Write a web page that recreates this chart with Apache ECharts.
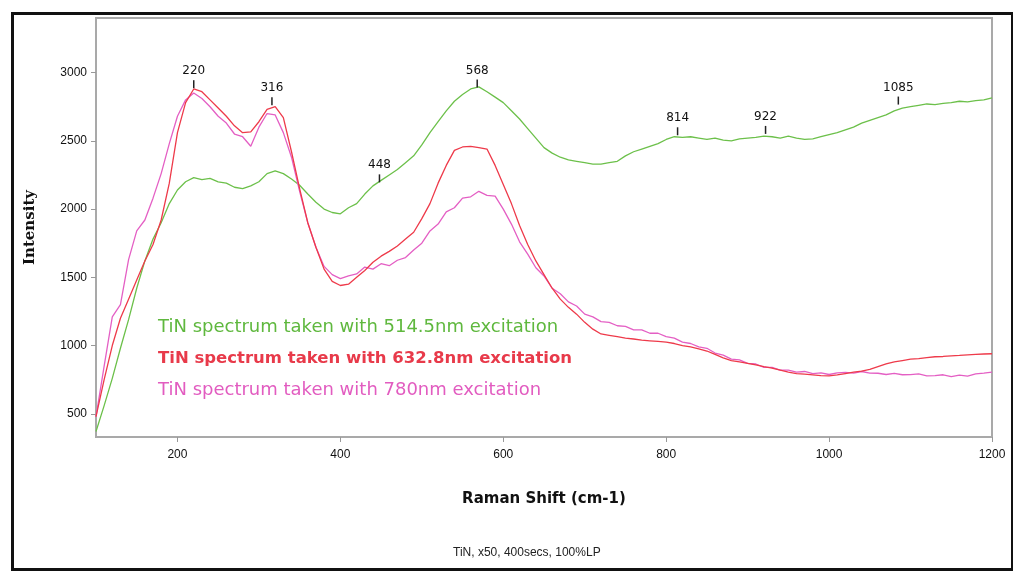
<!DOCTYPE html>
<html>
<head>
<meta charset="utf-8">
<script src="https://cdn.jsdelivr.net/npm/echarts@6/dist/echarts.min.js"></script>
<style>
  html, body { margin: 0; padding: 0; background: #fff; }
  #raman { width: 1013px; height: 571px; }
</style>
</head>
<body>
<div id="raman"></div>
<script>
// Raman shift (cm-1), one shared step for the three spectra
var shift = [];
for (var s = 100; s <= 1200; s += 10) shift.push(s);

// 514.5nm excitation
var green = [
  370, 560, 760, 980, 1190, 1420, 1620, 1780, 1900, 2040,
  2140, 2200, 2230, 2215, 2225, 2200, 2190, 2160, 2150, 2170,
  2200, 2260, 2280, 2260, 2220, 2175, 2110, 2050, 2000, 1975,
  1965, 2010, 2040, 2110, 2170, 2210, 2250, 2290, 2340, 2390,
  2470, 2560, 2640, 2720, 2790, 2840, 2880, 2895, 2860, 2820,
  2780, 2720, 2660, 2590, 2520, 2450, 2410, 2380, 2360, 2350,
  2340, 2330, 2330, 2340, 2350, 2390, 2420, 2440, 2460, 2480,
  2510, 2530, 2525, 2530, 2520, 2510, 2520, 2505, 2500, 2515,
  2520, 2525, 2535, 2530, 2520, 2535, 2520, 2510, 2515, 2530,
  2545, 2560, 2580, 2600, 2630, 2650, 2670, 2690, 2720, 2740,
  2750, 2760, 2770, 2765, 2775, 2780, 2790, 2785, 2795, 2800,
  2815
];

// 632.8nm excitation
var red = [
  480, 750, 1000, 1200, 1340, 1480, 1620, 1740, 1920, 2190,
  2560, 2780, 2880, 2860, 2800, 2740, 2680, 2610, 2560, 2565,
  2640, 2730, 2750, 2670, 2420, 2150, 1900, 1720, 1560, 1470,
  1440, 1450, 1500, 1550, 1610, 1655, 1690, 1730, 1780, 1830,
  1930, 2040, 2190, 2320, 2430, 2455, 2460, 2450, 2440, 2320,
  2180, 2040, 1880, 1740, 1620, 1520, 1420, 1340, 1280, 1230,
  1170, 1120, 1085, 1075, 1065, 1055, 1048, 1040, 1035, 1030,
  1025, 1015, 1000, 990, 975, 960, 935, 910, 890, 880,
  870, 858, 845, 835, 820, 805, 795, 790, 785, 780,
  778, 785, 795, 805, 812, 825, 845, 865, 880, 890,
  900, 905, 912, 918, 920, 925, 928, 932, 935, 938,
  940
];

// 780nm excitation
var pink = [
  480, 850, 1210, 1300, 1630, 1840, 1920, 2080, 2260, 2480,
  2680, 2800, 2850, 2810, 2750, 2680, 2630, 2550, 2530, 2460,
  2600, 2700, 2690, 2560, 2380, 2130, 1900, 1720, 1580, 1520,
  1490, 1510, 1525, 1575, 1560, 1600, 1585, 1625, 1645, 1700,
  1750, 1840, 1890, 1980, 2010, 2080, 2090, 2130, 2100, 2095,
  2000, 1890, 1760, 1670, 1570, 1510, 1420, 1380, 1320, 1290,
  1230, 1210, 1175, 1170, 1145, 1140, 1115, 1115, 1090, 1090,
  1065, 1055, 1025, 1015, 990, 980, 945, 930, 900, 895,
  870, 865, 840, 840, 820, 820, 805, 810, 795, 800,
  788, 800, 803, 798, 810, 798, 797, 788, 796, 786,
  787, 792, 778, 780, 786, 773, 784, 776, 792, 798,
  805
];

var seriesNames = [
  'TiN spectrum taken with 514.5nm excitation',
  'TiN spectrum taken with 632.8nm excitation',
  'TiN spectrum taken with 780nm excitation'
];

// labelled peaks: position and intensity at the little tick mark
var peakShift = [220, 316, 448, 568, 814, 922, 1085];
var peakLevel = [2915, 2790, 2225, 2920, 2570, 2580, 2795];
var peakOnSeries = [1, 1, 0, 0, 0, 0, 0];

var xTicks = [200, 400, 600, 800, 1000, 1200];
var yTicks = [500, 1000, 1500, 2000, 2500, 3000];

var colors = ['#6cc04a', '#ee3a4a', '#e45fc4'];
var textColors = ['#5fb83e', '#e83a4a', '#e25cc0'];

var myChart = echarts.init(document.getElementById('raman'));

function pairs(ys) {
  return shift.map(function (x, i) { return [x, ys[i]]; });
}

function peaksFor(k) {
  var out = [];
  for (var i = 0; i < peakShift.length; i++) {
    if (peakOnSeries[i] !== k) continue;
    out.push({ coord: [peakShift[i], peakLevel[i]], value: peakShift[i] });
  }
  return out;
}

var allY = [green, red, pink];
var series = [];
for (var k = 0; k < 3; k++) {
  series.push({
    name: seriesNames[k],
    type: 'line',
    data: pairs(allY[k]),
    showSymbol: false,
    smooth: false,
    z: k === 1 ? 4 : 3,
    lineStyle: { color: colors[k], width: 1.3 },
    itemStyle: { color: colors[k] },
    markPoint: {
      symbol: 'rect',
      symbolSize: [1.5, 8],
      itemStyle: { color: '#222' },
      label: {
        show: true,
        position: 'top',
        distance: 3,
        color: '#111',
        fontSize: 12,
        fontFamily: 'DejaVu Sans',
        formatter: '{c}'
      },
      data: peaksFor(k)
    }
  });
}

function plain(v) { return String(v); }

var option = {
  animation: false,
  backgroundColor: '#fff',
  title: {
    text: 'TiN, x50, 400secs, 100%LP',
    left: 448,
    top: 542,
    textStyle: { fontSize: 12, fontWeight: 'normal', color: '#222', fontFamily: 'Liberation Sans' }
  },
  legend: {
    orient: 'vertical',
    left: 148,
    top: 313,
    icon: 'none',
    itemWidth: 0,
    itemGap: 14,
    textStyle: { fontSize: 18, fontFamily: 'DejaVu Sans' },
    data: seriesNames.map(function (n, i) {
      return {
        name: n,
        textStyle: {
          color: textColors[i],
          fontWeight: i === 1 ? 'bold' : 'normal',
          fontSize: i === 1 ? 16.5 : 18
        }
      };
    })
  },
  grid: {
    left: 96,
    right: 21,
    top: 18,
    bottom: 134,
    show: true,
    borderColor: '#a9a9a9',
    borderWidth: 2
  },
  xAxis: {
    type: 'value',
    min: 100,
    max: 1200,
    name: 'Raman Shift (cm-1)',
    nameLocation: 'middle',
    nameGap: 55,
    nameTextStyle: { fontSize: 15, fontWeight: 'bold', color: '#111', fontFamily: 'DejaVu Sans' },
    splitLine: { show: false },
    axisLine: { lineStyle: { color: '#a9a9a9', width: 2 } },
    axisTick: { show: true, length: 5, lineStyle: { color: '#999' }, customValues: xTicks },
    axisLabel: { color: '#111', fontSize: 12, margin: 12, fontFamily: 'Liberation Sans', customValues: xTicks, formatter: plain }
  },
  yAxis: {
    type: 'value',
    min: 330,
    max: 3400,
    name: 'Intensity',
    nameLocation: 'middle',
    nameRotate: 90,
    nameGap: 58,
    nameTextStyle: { fontSize: 15, fontWeight: 'bold', color: '#111', fontFamily: 'DejaVu Serif' },
    splitLine: { show: false },
    axisLine: { show: true, lineStyle: { color: '#a9a9a9', width: 2 } },
    axisTick: { show: true, length: 5, lineStyle: { color: '#999' }, customValues: yTicks },
    axisLabel: { color: '#111', fontSize: 12, margin: 9, fontFamily: 'Liberation Sans', customValues: yTicks, formatter: plain }
  },
  graphic: [{
    type: 'rect',
    left: 10,
    top: 11,
    shape: { width: 1000, height: 556 },
    style: { fill: 'none', stroke: '#111', lineWidth: 3 },
    silent: true,
    z: 10
  }],
  series: series
};

if (option && typeof option === "object") {
  myChart.setOption(option, true);
}
</script>
</body>
</html>
